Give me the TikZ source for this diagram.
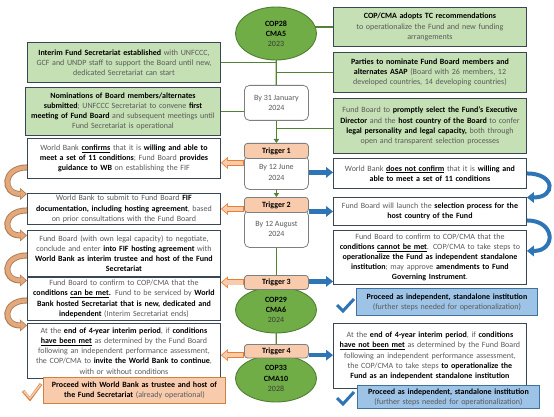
\documentclass[tikz,border=0pt]{standalone}
\usepackage{fontspec}
\setmainfont{Carlito}
\usetikzlibrary{shapes.geometric,arrows.meta,calc}
\definecolor{gfill}{HTML}{C5E0B4}
\definecolor{bline}{HTML}{3A4654}
\definecolor{efill}{HTML}{70AD47}
\definecolor{eline}{HTML}{507E32}
\definecolor{conng}{HTML}{548235}
\definecolor{peach}{HTML}{F8CBAD}
\definecolor{orng}{HTML}{ED7D31}
\definecolor{pborder}{HTML}{D08040}
\definecolor{gtxt}{HTML}{5A5A5A}
\definecolor{ytxt}{HTML}{3B3B3B}
\definecolor{bfill}{HTML}{9DC3E6}
\definecolor{bline2}{HTML}{41719C}
\definecolor{barr}{HTML}{2E75B6}
\definecolor{tanf}{HTML}{E2A97E}
\definecolor{tanb}{HTML}{B0784A}
\definecolor{gbord}{HTML}{7F7F7F}
\newcommand\fs{\fontsize{8}{10.2}\selectfont}
\newcommand\B[1]{\textcolor{black}{\textbf{#1}}}
\newcommand\U[1]{\underline{#1}}
\pgfdeclarelayer{back}\pgfdeclarelayer{bg}\pgfsetlayers{back,bg,main}
\newcommand\oarrow[2]{\draw[oarrout] #1 -- #2; \draw[oarrin] #1 -- #2;}
\newcommand\tanarrow[2]{\draw[tanout] #1 .. controls +(-25,0) and +(-25,0) .. #2; \draw[tanin] #1 .. controls +(-25,0) and +(-25,0) .. #2;}
\begin{document}
\begin{tikzpicture}[x=1pt,y=-1pt,
  base/.style={draw=bline, line width=0.9pt, inner xsep=2pt, inner ysep=1pt, align=center, text=gtxt, font=\fs, anchor=north west},
  gbox/.style={base, fill=gfill},
  wbox/.style={base, fill=white},
  pbox/.style={base, fill=peach, draw=pborder},
  bbox/.style={base, fill=bfill, draw=bline2},
  cop/.style={ellipse, draw=eline, line width=0.9pt, fill=efill, inner sep=0pt, align=center, font=\fs, text=black},
  thead/.style={draw=gbord, line width=0.8pt, fill=peach, rounded corners=3pt, minimum width=64pt, inner sep=0pt, anchor=north west, font=\fs\bfseries, text=black},
  tbody/.style={draw=gbord, line width=0.8pt, fill=white, rounded corners=5pt, minimum width=64pt, inner sep=0pt, anchor=north west, align=center, font=\fs, text=gtxt},
  conn/.style={draw=conng, line width=1.3pt},
  garr/.style={conn, -{Triangle[length=4pt,width=5.5pt,line width=0pt]}},
  blarr/.style={draw=barr, line width=4.5pt, -{Triangle[length=7pt,width=11pt,line width=0pt]}},
  oarrout/.style={draw=orng, line width=6pt, -{Triangle[length=7pt,width=12pt,line width=0pt]}},
  oarrin/.style={draw=peach, line width=4.2pt, -{Triangle[length=5pt,width=9pt,line width=0pt]}, shorten >=1.3pt, shorten <=0.9pt},
  tanout/.style={draw=tanb, line width=6pt, -{Triangle[length=7pt,width=12pt,line width=0pt]}},
  tanin/.style={draw=tanf, line width=4.2pt, -{Triangle[length=5pt,width=9pt,line width=0pt]}, shorten >=1.3pt},
  blcurve/.style={draw=barr, line width=4pt, -{Triangle[length=7pt,width=11pt,line width=0pt]}}
]
\begin{pgfonlayer}{back}
\fill[white] (0,0) rectangle (554,417);
\end{pgfonlayer}
\path[use as bounding box] (0,0) rectangle (554,417);

% centre column
\node[cop, minimum width=81pt, minimum height=53pt] (cop28) at (276,33.5) {\textbf{COP28}\\\textbf{CMA5}\\\textcolor{ytxt}{2023}};
\node[tbody, minimum height=35pt] (jan) at (244,85) {By 31 January\\2024};
\node[tbody, minimum height=34pt] (t1b) at (244,155) {By 12 June\\2024};
\node[thead, minimum height=15pt] (t1h) at (244,143) {Trigger 1};
\node[tbody, minimum height=37pt] (t2b) at (244,210) {By 12 August\\2024};
\node[thead, minimum height=15pt] (t2h) at (244,197) {Trigger 2};
\node[cop, minimum width=81pt, minimum height=46pt] (cop29) at (276,310) {\textbf{COP29}\\\textbf{CMA6}\\\textcolor{ytxt}{2024}};
\node[thead, minimum height=14pt] (t3h) at (244,275) {Trigger 3};
\node[cop, minimum width=81pt, minimum height=47pt] (cop33) at (276,378.5) {\textbf{COP33}\\\textbf{CMA10}\\\textcolor{ytxt}{2028}};
\node[thead, minimum height=13.5pt] (t4h) at (244,344) {Trigger 4};

% left column
\node[gbox, text width=189pt, minimum height=40pt] (l1) at (27,42) {\B{Interim Fund Secretariat established} with UNFCCC,\\GCF and UNDP staff to support the Board until new,\\dedicated Secretariat can start};
\node[gbox, text width=191pt, minimum height=48pt] (l2) at (25,87) {\B{Nominations of Board members/alternates}\\\B{submitted}; UNFCCC Secretariat to convene \B{first}\\\B{meeting of Fund Board} and subsequent meetings until\\Fund Secretariat is operational};
\node[wbox, text width=189pt, minimum height=40pt] (l3) at (27,138) {World Bank \B{\U{confirms}} that it is \B{willing and able to}\\\B{meet a set of 11 conditions}; Fund Board \B{provides}\\\B{guidance to WB} on establishing the FIF};
\node[wbox, text width=189pt, minimum height=31pt] (l4) at (27,193) {World Bank to submit to Fund Board \B{FIF}\\\B{documentation, including hosting agreement}, based\\on prior consultations with the Fund Board};
\node[wbox, text width=189pt, minimum height=46pt] (l5) at (27,230) {Fund Board (with own legal capacity) to negotiate,\\conclude and enter \B{into FIF hosting agreement} with\\\B{World Bank as interim trustee and host of the Fund}\\\B{Secretariat}};
\node[wbox, text width=189pt, minimum height=43pt] (l6) at (27,277) {Fund Board to confirm to COP/CMA that the\\\B{conditions \U{can be met}.} Fund to be serviced by \B{World}\\\B{Bank hosted Secretariat that is new, dedicated and}\\\B{independent} (Interim Secretariat ends)};
\node[wbox, text width=189pt, minimum height=55pt] (l7) at (27,323) {At the \B{end of 4-year interim period}, if \B{conditions}\\\B{\U{have been met}} as determined by the Fund Board\\following an independent performance assessment,\\the COP/CMA to \B{invite the World Bank to continue},\\with or without conditions};
\node[pbox, text width=178pt, minimum height=26pt] (l8) at (43,377) {\B{Proceed with World Bank as trustee and host of}\\\B{the Fund Secretariat} (already operational)};

% right column
\node[gbox, text width=189pt, minimum height=39pt] (r1) at (333,7) {\B{COP/CMA adopts TC recommendations}\\to operationalize the Fund and new funding\\arrangements};
\node[gbox, text width=189pt, minimum height=40pt] (r2) at (333,52) {\B{Parties to nominate Fund Board members and}\\\B{alternates ASAP} (Board with 26 members, 12\\developed countries, 14 developing countries)};
\node[gbox, text width=189pt, minimum height=55pt] (r3) at (333,98) {Fund Board to \B{promptly select the Fund's Executive}\\\B{Director} and the \B{host country of the Board} to confer\\\B{legal personality and legal capacity,} both through\\open and transparent selection processes};
\node[wbox, text width=189pt, minimum height=30pt] (r4) at (333,158) {World Bank \B{\U{does not confirm}} that it is \B{willing and}\\\B{able to meet a set of 11 conditions}};
\node[wbox, text width=189pt, minimum height=28pt] (r5) at (333,197) {Fund Board will launch the \B{selection process for the}\\\B{host country of the Fund}};
\node[wbox, text width=189pt, minimum height=54pt] (r6) at (333,230) {Fund Board to confirm to COP/CMA that the\\\B{conditions \U{cannot be met}}. COP/CMA to take steps to\\\B{operationalize the Fund as independent standalone}\\\B{institution}; may approve \B{amendments to Fund}\\\B{Governing Instrument}.};
\node[bbox, text width=177pt, minimum height=27pt] (r7) at (356,288) {\B{Proceed as independent, standalone institution}\\(further steps needed for operationalization)};
\node[wbox, text width=189pt, minimum height=65pt] (r8) at (333,323) {At the \B{end of 4-year interim period}, if \B{conditions}\\\B{\U{have not been met}} as determined by the Fund Board\\following an independent performance assessment,\\the COP/CMA to take steps \B{to operationalize the}\\\B{Fund as an independent standalone institution}};
\node[bbox, text width=178pt, minimum height=23pt] (r9) at (357,385) {\B{Proceed as independent, standalone institution}\\(further steps needed for operationalization)};

\begin{pgfonlayer}{bg}
\draw[conn] (cop28.center |- r1.west) -- (r1.west);
\draw[conn] (cop28.center) -- (jan.center);
\draw[conn] (l1.east) -- (l1.east -| cop28.center);
\draw[conn] (r2.west -| cop28.center) -- (r2.west);
\draw[conn] (l2.east) -- (l2.east -| jan.center);
\draw[garr] (jan.south) -- (jan.south |- t1h.north);
\draw[conn] ([yshift=-2.5pt]r3.west -| jan.south) -- ([yshift=-2.5pt]r3.west);
\draw[garr] (t1b.south) -- (t2h.north);
\draw[conn] (t2b.south) -- (t3h.north);
\draw[conn] (cop29.center) -- (t4h.center);
% trigger arrows
\oarrow{([yshift=9.5pt]t1b.west)}{([yshift=9.5pt]t1b.west -| l3.east)}
\draw[blarr] (t1b.east) -- (t1b.east -| r4.west);
\oarrow{(l4.east -| t2h.west)}{(l4.east)}
\draw[blarr] (r5.west -| t2h.east) -- (r5.west);
\oarrow{(t3h.west)}{(t3h.west -| l6.east)}
\draw[blarr] ([yshift=1pt]t3h.east) -- ([yshift=1pt]t3h.east -| r6.west);
\oarrow{([yshift=-4pt]t4h.west)}{([yshift=-4pt]t4h.west -| l7.east)}
\draw[blarr] ([yshift=-4pt]t4h.east) -- ([yshift=-4pt]t4h.east -| r8.west);
% left curved arrows
\tanarrow{([yshift=-9pt]l3.west)}{([yshift=15pt]l4.west)}
\tanarrow{([yshift=-1.5pt]l4.west)}{([yshift=18pt]l5.west)}
\tanarrow{([yshift=-2pt]l5.west)}{([yshift=18.5pt]l6.west)}
\tanarrow{([yshift=-1.5pt]l6.west)}{([yshift=25.5pt]l7.west)}
% right curved arrows
\draw[blcurve] (r4.east) .. controls +(29,0) and +(29,0) .. ([yshift=14pt]r5.east);
\draw[blcurve] ([yshift=-9pt]r5.east) .. controls +(29,0) and +(29,0) .. ([yshift=6.5pt]r6.east);
\end{pgfonlayer}

% check marks
\draw[pborder, line width=3pt, line join=miter] (23,391) -- (30,399) -- (41,384);
\draw[peach, line width=1.5pt, line join=miter] (23.6,391.3) -- (30,398.2) -- (40.6,384.6);
\draw[barr, line width=3pt] (337,305) -- (343,311) -- (354,299);
\draw[barr, line width=3pt] (337,398) -- (343,404) -- (354,392);
\end{tikzpicture}
\end{document}
